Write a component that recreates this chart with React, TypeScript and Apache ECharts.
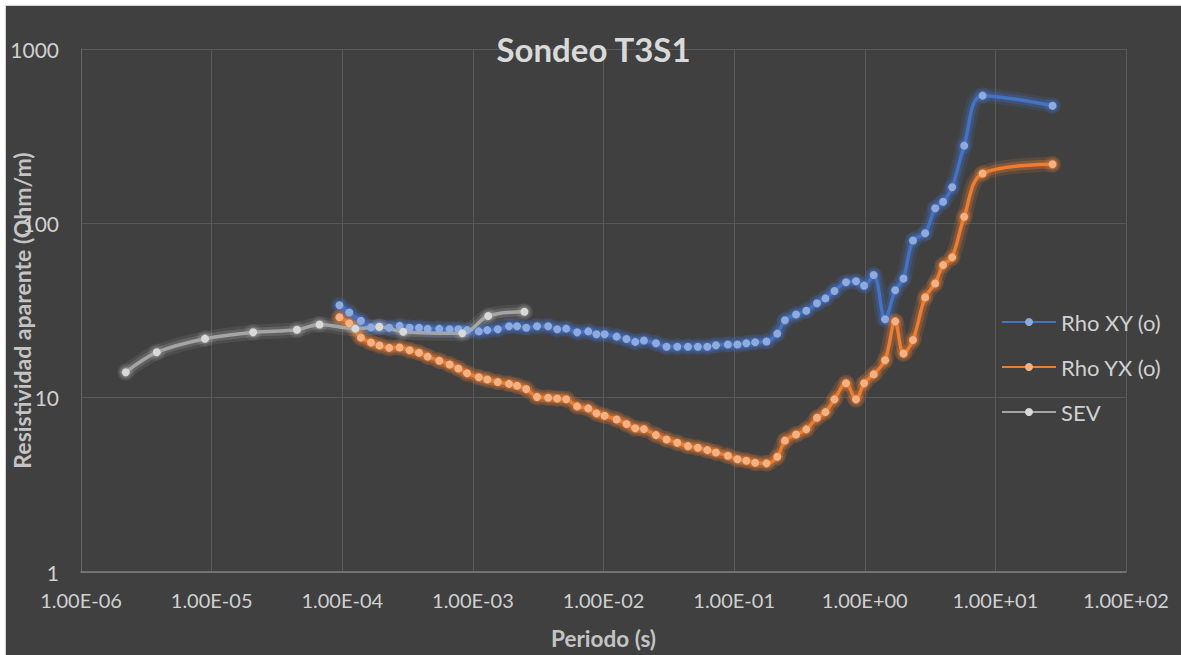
import React, { useEffect, useRef } from "react";
import * as echarts from "echarts";

// Shared periods (s) for the MT curves
const periods = [
  9.53e-5, 1.13e-4, 1.39e-4, 1.66e-4, 1.93e-4, 2.29e-4, 2.75e-4, 3.28e-4, 3.87e-4, 4.51e-4,
  5.53e-4, 6.64e-4, 7.74e-4, 9.03e-4, 1.11e-3, 1.29e-3, 1.55e-3, 1.89e-3, 2.18e-3, 2.56e-3,
  3.1e-3, 3.77e-3, 4.42e-3, 5.18e-3, 6.28e-3, 7.64e-3, 8.83e-3, 1.02e-2, 1.26e-2, 1.5e-2,
  1.75e-2, 2.04e-2, 2.52e-2, 3.04e-2, 3.67e-2, 4.43e-2, 5.28e-2, 6.24e-2, 7.26e-2, 8.96e-2,
  0.106, 0.124, 0.145, 0.177, 0.214, 0.245, 0.298, 0.357, 0.431, 0.5,
  0.586, 0.719, 0.857, 0.989, 1.17, 1.43, 1.71, 1.98, 2.34, 2.9,
  3.46, 3.98, 4.67, 5.77, 7.98, 27.4,
];

const rhoXY = [
  33.9, 30.8, 27.6, 25.3, 25.4, 25.2, 25.8, 25.2, 25.2, 24.8,
  24.8, 24.7, 24.7, 24.4, 24.0, 24.4, 24.7, 25.7, 25.7, 25.2,
  25.7, 25.7, 24.7, 24.9, 23.7, 24.0, 23.1, 23.1, 22.4, 21.7,
  20.9, 21.3, 20.5, 19.6, 19.6, 19.6, 19.6, 19.6, 20.0, 20.2,
  20.2, 20.5, 20.8, 21.0, 23.3, 27.8, 30.0, 31.5, 34.8, 37.1,
  40.9, 45.9, 46.5, 43.9, 50.5, 28.2, 41.3, 48.2, 79.7, 87.7,
  122, 133, 161, 279, 540, 473,
];

const rhoYX = [
  28.9, 26.7, 22.1, 20.7, 19.9, 19.3, 19.4, 18.7, 18.1, 17.2,
  16.3, 15.5, 14.7, 13.8, 13.1, 12.7, 12.3, 12.0, 11.7, 11.2,
  10.1, 10.0, 9.9, 9.8, 8.91, 8.68, 8.13, 7.87, 7.5, 7.06,
  6.67, 6.6, 6.1, 5.76, 5.51, 5.27, 5.16, 5.0, 4.85, 4.64,
  4.43, 4.35, 4.23, 4.2, 4.58, 5.67, 6.15, 6.58, 7.67, 8.26,
  9.78, 12.1, 9.78, 12.1, 13.6, 16.4, 27.4, 17.9, 21.4, 37.6,
  45.2, 57.6, 63.8, 109, 193, 218,
];

const sevPeriods = [2.2e-6, 3.8e-6, 8.9e-6, 2.08e-5, 4.5e-5, 6.7e-5, 1.26e-4, 1.92e-4, 2.93e-4, 8.3e-4, 1.31e-3, 2.48e-3];
const sevRho = [14.0, 18.2, 21.8, 23.7, 24.5, 26.3, 24.9, 25.5, 23.9, 23.4, 29.4, 31.1];

const seriesNames = ["Rho XY (o)", "Rho YX (o)", "SEV"];
const lineColors = ["#4472c4", "#ed7d31", "#a5a5a5"];
const markerColors = ["#8faadc", "#f4b183", "#d9d9d9"];
const glowRGB = ["68,114,196", "237,125,49", "210,210,210"];
const glowAlpha = [
  [0.16, 0.28],
  [0.16, 0.28],
  [0.09, 0.16],
];

const xMin = 1e-6;
const xMax = 1e2;
const yMin = 1;
const yMax = 1000;

const FONT = "Lato";

function xLabel(v: number): string {
  const e = Math.round(Math.log10(v));
  const m = v / Math.pow(10, e);
  return `${m.toFixed(2)}E${e < 0 ? "-" : "+"}${String(Math.abs(e)).padStart(2, "0")}`;
}

function pairs(xs: number[], ys: number[]) {
  return xs.map((x, i) => [x, ys[i]]);
}

export default function App() {
  const ref = useRef<HTMLDivElement>(null);

  useEffect(() => {
    if (!ref.current) return;
    const chart = echarts.init(ref.current, undefined, { renderer: "svg" });
    const datasets = [pairs(periods, rhoXY), pairs(periods, rhoYX), pairs(sevPeriods, sevRho)];

    // soft glow underlay (two translucent layers), not listed in the legend
    const glowSeries: any[] = [];
    const layers = [
      { w: 15, s: 17 },
      { w: 9, s: 12 },
    ];
    datasets.forEach((d, i) => {
      layers.forEach((L, k) => {
        const c = `rgba(${glowRGB[i]},${glowAlpha[i][k]})`;
        glowSeries.push({
          name: `glow${i}_${k}`,
          type: "line",
          data: d,
          smooth: 0.35,
          symbol: "circle",
          symbolSize: L.s,
          showSymbol: true,
          silent: true,
          z: 1,
          lineStyle: { color: c, width: L.w, cap: "round", join: "round" },
          itemStyle: { color: c, borderWidth: 0 },
          emphasis: { disabled: true },
        });
      });
    });

    const mainSeries = datasets.map((d, i) => ({
      name: seriesNames[i],
      type: "line",
      data: d,
      smooth: 0.35,
      symbol: "circle",
      symbolSize: 8,
      showSymbol: true,
      z: 3,
      lineStyle: { color: lineColors[i], width: 3.5 },
      itemStyle: { color: markerColors[i], borderWidth: 0 },
      emphasis: { disabled: true },
    }));

    chart.setOption({
      animation: false,
      backgroundColor: "#404040",
      title: {
        text: "Sondeo T3S1",
        left: "center",
        top: 21,
        textStyle: { fontFamily: FONT, fontSize: 33, fontWeight: "bold", color: "#d9d9d9" },
      },
      legend: {
        orient: "vertical",
        left: 995,
        top: 305,
        padding: 0,
        itemWidth: 54,
        itemHeight: 10,
        itemGap: 23,
        data: seriesNames,
        textStyle: { fontFamily: FONT, fontSize: 22, color: "#d0d0d0" },
      },
      grid: { left: 75, top: 43, right: 55, bottom: 83, outerBoundsMode: "none", containLabel: false },
      xAxis: {
        type: "log",
        logBase: 10,
        min: xMin,
        max: xMax,
        name: "Periodo (s)",
        nameLocation: "middle",
        nameGap: 55,
        nameMoveOverlap: false,
        nameTextStyle: { fontFamily: FONT, fontSize: 22.5, fontWeight: "bold", color: "#c4c4c4" },
        axisLine: { show: true, lineStyle: { color: "#7f7f7f", width: 1.5 } },
        axisTick: { show: false },
        axisLabel: {
          formatter: xLabel,
          margin: 18,
          fontFamily: FONT,
          fontSize: 20,
          color: "#d0d0d0",
        },
        splitLine: { show: true, lineStyle: { color: "#595959", width: 1 } },
      },
      yAxis: {
        type: "log",
        logBase: 10,
        min: yMin,
        max: yMax,
        name: "Resistividad aparente (Ohm/m)",
        nameLocation: "middle",
        nameGap: 48,
        nameMoveOverlap: false,
        nameTextStyle: { fontFamily: FONT, fontSize: 23, fontWeight: "bold", color: "#c4c4c4" },
        axisLine: { show: true, lineStyle: { color: "#666666", width: 1 } },
        axisTick: { show: false },
        axisLabel: {
          formatter: (v: number) => String(Math.round(v)),
          margin: 22,
          fontFamily: FONT,
          fontSize: 21,
          color: "#d0d0d0",
        },
        splitLine: { show: true, lineStyle: { color: "#595959", width: 1 } },
      },
      series: [...glowSeries, ...mainSeries],
    });
    return () => chart.dispose();
  }, []);

  return (
    <div style={{ position: "absolute", left: 0, top: 0, width: 1181, height: 655, background: "#ffffff", overflow: "hidden" }}>
      <div
        style={{
          position: "absolute",
          left: 5,
          top: 5,
          width: 1176,
          height: 650,
          boxSizing: "border-box",
          borderLeft: "1px solid #d4d4d4",
          borderTop: "1px solid #d4d4d4",
          background: "#404040",
        }}
      >
        <div ref={ref} style={{ width: 1175, height: 649 }} />
      </div>
    </div>
  );
}
